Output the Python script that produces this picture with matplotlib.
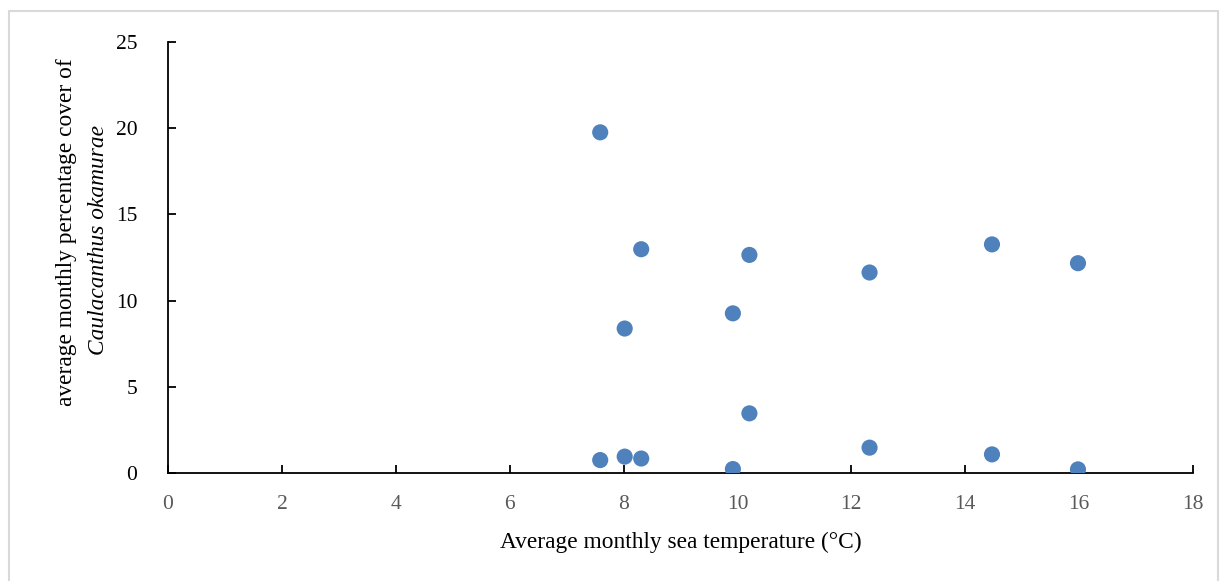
import matplotlib
matplotlib.use("Agg")
import matplotlib.pyplot as plt
from matplotlib.patches import Rectangle

# Average monthly sea temperature (°C) vs. percentage cover
temperature = [7.59, 8.02, 8.31, 9.92, 10.21, 12.32, 14.47, 15.98,
               7.59, 8.02, 8.31, 9.92, 10.21, 12.32, 14.47, 15.98]
cover = [19.76, 8.38, 12.98, 9.26, 12.65, 11.63, 13.26, 12.17,
         0.75, 0.95, 0.84, 0.23, 3.46, 1.47, 1.08, 0.21]

x_ticks = [0, 2, 4, 6, 8, 10, 12, 14, 16, 18]
y_ticks = [0, 5, 10, 15, 20, 25]

plt.rcParams["font.family"] = ["Liberation Serif", "DejaVu Serif"]

fig = plt.figure(figsize=(12.25, 5.81), dpi=100)
ax = fig.add_axes([168 / 1225, 1 - 473 / 581, (1193 - 168) / 1225, (473 - 42) / 581])

ax.scatter(temperature, cover, s=135, color="#4f81bd", edgecolors="none", zorder=3)

ax.set_xlim(0, 18)
ax.set_ylim(0, 25)
ax.set_xticks(x_ticks)
ax.set_yticks(y_ticks)
for side in ["top", "right"]:
    ax.spines[side].set_visible(False)
for side in ["left", "bottom"]:
    ax.spines[side].set_linewidth(1.3)
ax.tick_params(direction="in", length=5.5, width=1.3, labelsize=15.5)
ax.tick_params(axis="x", labelcolor="#595959", pad=16)
ax.tick_params(axis="y", labelcolor="black", pad=22)

ax.set_xlabel("Average monthly sea temperature (°C)", fontsize=16.8, labelpad=13)

fig.text(67 / 1225, 1 - 232 / 581, "average monthly percentage cover of",
         rotation=90, ha="center", va="center", fontsize=16.8)
fig.text(99 / 1225, 1 - 240 / 581, "Caulacanthus okamurae",
         rotation=90, ha="center", va="center", fontsize=16.8, style="italic")

# light grey frame around the chart area
fig.patches.append(Rectangle((9 / 1225, -0.05), (1218 - 9) / 1225, 1.05 - 11 / 581,
                             transform=fig.transFigure, fill=False,
                             edgecolor="#d9d9d9", linewidth=1.5))

fig.savefig("out.png", dpi=100)
